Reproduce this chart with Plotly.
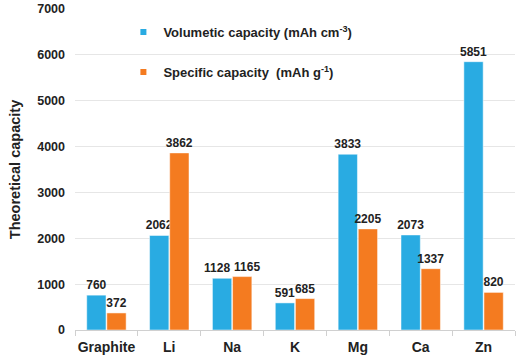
import plotly.graph_objects as go

categories = ["Graphite", "Li", "Na", "K", "Mg", "Ca", "Zn"]
volumetric = [760, 2062, 1128, 591, 3833, 2073, 5851]
specific = [372, 3862, 1165, 685, 2205, 1337, 820]
y_ticks = [0, 1000, 2000, 3000, 4000, 5000, 6000, 7000]

BLUE = "#29ABE2"
ORANGE = "#F47B20"
FONT = "Liberation Sans, Arial, sans-serif"
NB = "\u00a0"

# wide labels of two bars of similar height are pushed apart
close = [abs(a - b) < 300 and min(a, b) >= 1000 for a, b in zip(volumetric, specific)]
tmpl_vol = ["%{y}" + NB * 3 if c else "%{y}" for c in close]
tmpl_spe = [NB * 3 + "%{y}" if c else "%{y}" for c in close]

fig = go.Figure()
for vals, col, tmpl in ((volumetric, BLUE, tmpl_vol), (specific, ORANGE, tmpl_spe)):
    fig.add_trace(go.Bar(x=categories, y=vals, marker=dict(color=col, line=dict(color="white", width=0.5)),
                         texttemplate=tmpl, textposition="outside", cliponaxis=False, constraintext="none",
                         textfont=dict(family=FONT, size=12, color="#222", weight="bold"),
                         showlegend=False, hoverinfo="skip"))
# legend entries with small square markers
fig.add_trace(go.Scatter(x=[None], y=[None], mode="markers", legendgroup="a",
                         marker=dict(symbol="square", size=6, color=BLUE),
                         name="Volumetic capacity (mAh cm<sup>-3</sup>)"))
fig.add_trace(go.Scatter(x=[None], y=[None], mode="markers", legendgroup="b",
                         marker=dict(symbol="square", size=6, color=ORANGE),
                         name="Specific capacity  (mAh g<sup>-1</sup>)"))

fig.update_layout(
    width=522, height=364,
    margin=dict(l=75, r=7, t=9, b=34),
    paper_bgcolor="white", plot_bgcolor="white",
    font=dict(family=FONT, size=12, color="#222"),
    barmode="group", bargap=0.36, bargroupgap=0.04,
    legend=dict(x=0.11, y=0.975, xanchor="left", yanchor="top",
                font=dict(family=FONT, size=13, color="#222", weight="bold"),
                tracegroupgap=20, traceorder="grouped", itemwidth=30,
                bgcolor="rgba(0,0,0,0)"),
    showlegend=True,
)
fig.update_xaxes(type="category", showline=True, linecolor="#d0d0d0", linewidth=1,
                 ticks="outside", tickson="boundaries", ticklen=5, tickcolor="#d0d0d0",
                 ticklabelstandoff=4, tickangle=0,
                 tickfont=dict(family=FONT, size=14, color="#222", weight="bold"),
                 automargin=False)
fig.update_yaxes(range=[0, 7000], tickvals=y_ticks, showgrid=True, gridcolor="#e6e6e6",
                 zeroline=False, ticks="", ticklabelstandoff=9,
                 tickfont=dict(family=FONT, size=12.5, color="#222", weight="bold"),
                 automargin=False,
                 title=dict(text="Theoretical capacity",
                            font=dict(family=FONT, size=14.5, color="#222", weight="bold"), standoff=13))

fig.write_html("out.html", post_script="document.body.style.margin='0';",
               config={"displayModeBar": False})
